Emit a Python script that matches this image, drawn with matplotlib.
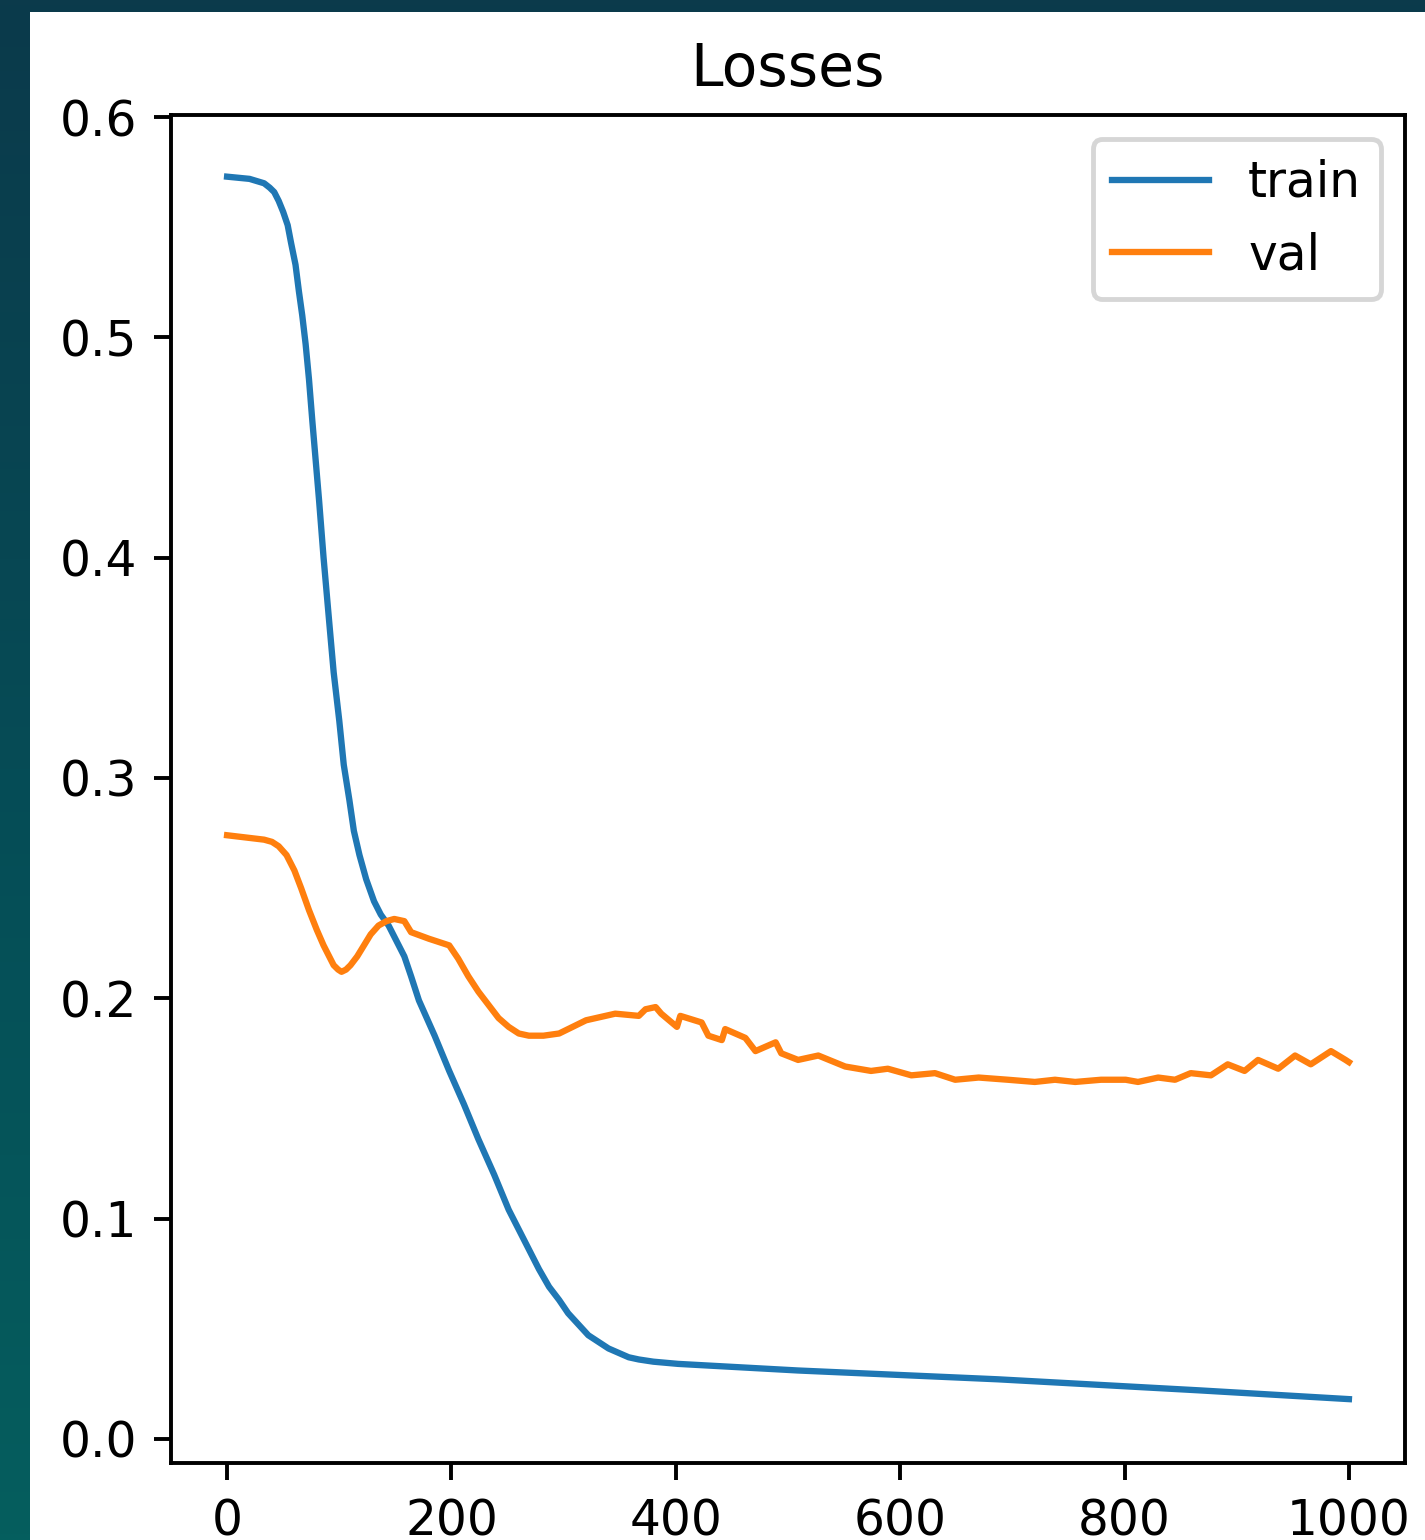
"""
Losses plot (train / val) shown as a screenshot on a dark teal backdrop.
"""
import numpy as np
import matplotlib
matplotlib.use("Agg")
import matplotlib.pyplot as plt
from matplotlib.colors import LinearSegmentedColormap
from matplotlib.patches import Rectangle

# values
train_x = [0, 20, 33, 38, 42, 46, 50, 54, 57, 61, 64, 67, 70, 73, 76, 79, 82,
           86, 91, 95, 100, 104, 109, 113, 118, 124, 131, 137, 144, 151, 158,
           164, 171, 185, 198, 211, 224, 238, 251, 265, 278, 287, 296, 304,
           313, 322, 331, 340, 349, 358, 367, 380, 402, 509, 687, 866, 1000]
train_y = [0.573, 0.572, 0.570, 0.568, 0.566, 0.562, 0.557, 0.551, 0.543,
           0.533, 0.521, 0.510, 0.497, 0.481, 0.462, 0.444, 0.426, 0.400,
           0.371, 0.348, 0.326, 0.306, 0.290, 0.276, 0.265, 0.254, 0.244,
           0.238, 0.233, 0.226, 0.219, 0.210, 0.199, 0.183, 0.167, 0.152,
           0.136, 0.120, 0.104, 0.090, 0.077, 0.069, 0.063, 0.057, 0.052,
           0.047, 0.044, 0.041, 0.039, 0.037, 0.036, 0.035, 0.034, 0.031,
           0.027, 0.022, 0.018]

val_x = [0, 33, 40, 46, 53, 60, 66, 73, 80, 86, 91, 95, 99, 102, 106, 110,
         116, 122, 128, 135, 142, 149, 158, 164, 180, 198, 206, 215, 224, 233,
         242, 251, 260, 269, 282, 296, 308, 320, 346, 367, 373, 382, 387, 401,
         404, 423, 429, 441, 444, 462, 471, 489, 494, 509, 527, 551, 574, 589,
         610, 631, 649, 670, 696, 720, 738, 756, 779, 801, 812, 830, 845, 859,
         877, 892, 907, 919, 937, 952, 966, 984, 997, 1000]
val_y = [0.274, 0.272, 0.271, 0.269, 0.265, 0.258, 0.250, 0.240, 0.231, 0.224,
         0.219, 0.215, 0.213, 0.212, 0.213, 0.215, 0.219, 0.224, 0.229, 0.233,
         0.235, 0.236, 0.235, 0.230, 0.227, 0.224, 0.218, 0.210, 0.203, 0.197,
         0.191, 0.187, 0.184, 0.183, 0.183, 0.184, 0.187, 0.190, 0.193, 0.192,
         0.195, 0.196, 0.193, 0.187, 0.192, 0.189, 0.183, 0.181, 0.186, 0.182,
         0.176, 0.180, 0.175, 0.172, 0.174, 0.169, 0.167, 0.168, 0.165, 0.166,
         0.163, 0.164, 0.163, 0.162, 0.163, 0.162, 0.163, 0.163, 0.162, 0.164,
         0.163, 0.166, 0.165, 0.170, 0.167, 0.172, 0.168, 0.174, 0.170, 0.176,
         0.172, 0.171]

W, H, DPI = 1425, 1540, 350
fig = plt.figure(figsize=(W / DPI, H / DPI), dpi=DPI)

# dark backdrop behind the screenshot
bg = fig.add_axes([0, 0, 1, 1], zorder=-10)
cmap = LinearSegmentedColormap.from_list("bg", ["#0b3a4b", "#064c56", "#055e5e"])
bg.imshow(np.linspace(0, 1, 256)[:, None], aspect="auto", cmap=cmap,
          extent=[0, 1, 0, 1])
bg.set_axis_off()
fig.patches.append(Rectangle((30 / W, 0), 1 - 30 / W, 1 - 12 / H,
                             transform=fig.transFigure, facecolor="white",
                             edgecolor="none", zorder=-5))

ax = fig.add_axes([171 / W, 77 / H, (1405 - 171) / W, (1463 - 115) / H])
ax.plot(train_x, train_y, label="train", lw=1.3)
ax.plot(val_x, val_y, label="val", lw=1.3)
ax.set_xlim(-50, 1050)
ax.set_ylim(-0.011, 0.601)
ax.set_xticks([0, 200, 400, 600, 800, 1000])
ax.set_yticks([0.0, 0.1, 0.2, 0.3, 0.4, 0.5, 0.6])
ax.set_title("Losses")
ax.legend(loc="upper right")

fig.savefig("out.png", dpi=DPI)
